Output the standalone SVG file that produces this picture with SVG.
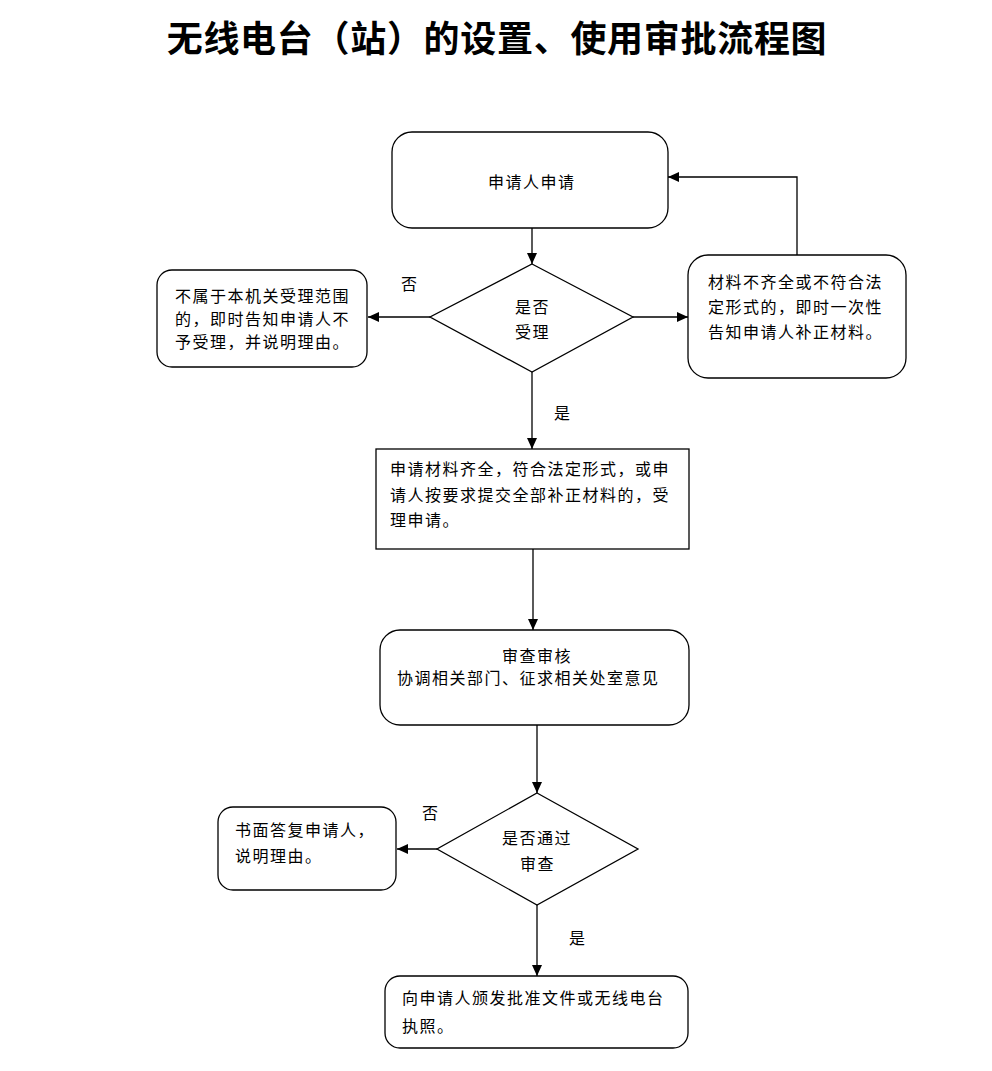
<svg xmlns="http://www.w3.org/2000/svg" width="992" height="1071" viewBox="0 0 992 1071">
<defs>
<style>
.n{fill:#fff;stroke:#000;stroke-width:1.3}
.t{font-family:"Noto Sans CJK SC","Liberation Sans",sans-serif;font-size:16px;letter-spacing:1.5px;fill:#000}
.c{stroke:#000;stroke-width:1.3;fill:none}
.title{font-family:"Noto Sans CJK SC","Liberation Sans",sans-serif;font-size:36px;font-weight:bold;fill:#000}
</style>
<marker id="ah" markerUnits="userSpaceOnUse" markerWidth="12" markerHeight="10" refX="11" refY="5" orient="auto">
<path d="M0,0 L11,5 L0,10 Z" fill="#000"/>
</marker>
</defs>
<rect width="992" height="1071" fill="#fff"/>
<text class="title" x="497" y="52" text-anchor="middle" letter-spacing="0.7">无线电台（站）的设置、使用审批流程图</text>

<g id="connectors">
<path class="c" d="M532,228 V264" marker-end="url(#ah)"/>
<path class="c" d="M430,317 H368" marker-end="url(#ah)"/>
<path class="c" d="M633,317 H688" marker-end="url(#ah)"/>
<path class="c" d="M797,255 V177 H668" marker-end="url(#ah)"/>
<path class="c" d="M532,372 V449" marker-end="url(#ah)"/>
<path class="c" d="M533,549 V630" marker-end="url(#ah)"/>
<path class="c" d="M537,725 V793" marker-end="url(#ah)"/>
<path class="c" d="M437,849 H397" marker-end="url(#ah)"/>
<path class="c" d="M537,905 V976" marker-end="url(#ah)"/>
<text class="t" x="401" y="290">否</text>
<text class="t" x="554" y="419">是</text>
<text class="t" x="422" y="819">否</text>
<text class="t" x="569" y="944">是</text>
</g>

<g id="n1">
<rect class="n" x="392" y="132" width="276" height="96" rx="20"/>
<text class="t" x="488" y="188">申请人申请</text>
</g>
<g id="d1">
<polygon class="n" points="532,264 633,317 532,372 430,317"/>
<text class="t" x="515" y="313">是否</text>
<text class="t" x="515" y="338">受理</text>
</g>
<g id="n2">
<rect class="n" x="157" y="270" width="210" height="97" rx="15"/>
<text class="t" x="175" y="302">不属于本机关受理范围</text>
<text class="t" x="175" y="325">的，即时告知申请人不</text>
<text class="t" x="175" y="348">予受理，并说明理由。</text>
</g>
<g id="n3">
<rect class="n" x="688" y="255" width="218" height="123" rx="20"/>
<text class="t" x="708" y="288">材料不齐全或不符合法</text>
<text class="t" x="708" y="313">定形式的，即时一次性</text>
<text class="t" x="708" y="338">告知申请人补正材料。</text>
</g>
<g id="n4">
<rect class="n" x="376" y="449" width="313" height="100"/>
<text class="t" x="390" y="475">申请材料齐全，符合法定形式，或申</text>
<text class="t" x="390" y="501">请人按要求提交全部补正材料的，受</text>
<text class="t" x="390" y="526">理申请。</text>
</g>
<g id="n5">
<rect class="n" x="380" y="630" width="309" height="95" rx="20"/>
<text class="t" x="502" y="662">审查审核</text>
<text class="t" x="397" y="684">协调相关部门、征求相关处室意见</text>
</g>
<g id="d2">
<polygon class="n" points="537,793 638,849 537,905 437,849"/>
<text class="t" x="502" y="844">是否通过</text>
<text class="t" x="520" y="870">审查</text>
</g>
<g id="n6">
<rect class="n" x="218" y="807" width="178" height="83" rx="15"/>
<text class="t" x="235" y="836">书面答复申请人，</text>
<text class="t" x="235" y="862">说明理由。</text>
</g>
<g id="n7">
<rect class="n" x="385" y="976" width="303" height="72" rx="15"/>
<text class="t" x="402" y="1004">向申请人颁发批准文件或无线电台</text>
<text class="t" x="402" y="1032">执照。</text>
</g>
</svg>
